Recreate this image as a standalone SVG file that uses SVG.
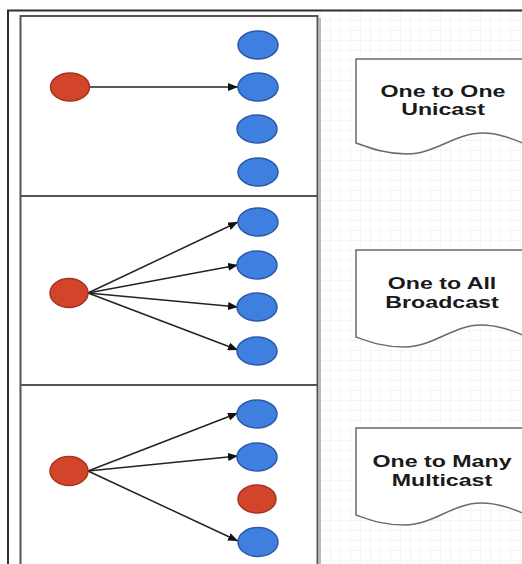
<svg xmlns="http://www.w3.org/2000/svg" width="522" height="564" viewBox="0 0 522 564">
  <defs>
    <pattern id="grid" x="0" y="0" width="10" height="10" patternUnits="userSpaceOnUse">
      <path d="M10 0 L0 0 L0 10" fill="none" stroke="#ebebeb" stroke-width="1"/>
    </pattern>
    <marker id="arrow" viewBox="0 0 10 8" refX="10" refY="4" markerWidth="10" markerHeight="8" markerUnits="userSpaceOnUse" orient="auto">
      <path d="M0 0 L10 4 L0 8 Z" fill="#111"/>
    </marker>
    <style>
      .sender { fill: #d2452b; stroke: #a8321d; stroke-width: 1.5; }
      .receiver { fill: #3f7fe0; stroke: #2a5aa6; stroke-width: 1.5; }
      .link { stroke: #222; stroke-width: 1.5; fill: none; marker-end: url(#arrow); }
      .doc { fill: #fff; stroke: #6a6a6a; stroke-width: 1.5; }
      .label { font-family: "Liberation Sans", Arial, sans-serif; font-weight: bold; font-size: 16px; fill: #1a1a1a; text-anchor: middle; }
      .frame { fill: none; stroke: #2e2e2e; stroke-width: 2; }
      .panel { fill: #fff; stroke: #555; stroke-width: 2; }
    </style>
  </defs>

  <!-- canvas -->
  <rect x="0" y="0" width="522" height="564" fill="#fff"/>
  <rect x="320" y="11" width="202" height="553" fill="url(#grid)"/>
  <path class="frame" d="M8 564 L8 10.5 L522 10.5"/>

  <!-- left panel with three bands -->
  <rect class="panel" x="20.5" y="16" width="297" height="560"/>
  <line x1="320" y1="18" x2="320" y2="564" stroke="#bbb" stroke-width="2"/>
  <line x1="20.5" y1="196" x2="317.5" y2="196" stroke="#555" stroke-width="2"/>
  <line x1="20.5" y1="385" x2="317.5" y2="385" stroke="#555" stroke-width="2"/>

  <!-- connectors -->
  <g id="connectors">
    <line class="link" x1="90" y1="87" x2="238" y2="87"/>
    <line class="link" x1="88" y1="293" x2="238" y2="222"/>
    <line class="link" x1="88" y1="293" x2="238" y2="265"/>
    <line class="link" x1="88" y1="293" x2="238" y2="307"/>
    <line class="link" x1="88" y1="293" x2="238" y2="350"/>
    <line class="link" x1="88" y1="471" x2="238" y2="413"/>
    <line class="link" x1="88" y1="471" x2="238" y2="456"/>
    <line class="link" x1="88" y1="471" x2="238" y2="541"/>
  </g>

  <!-- unicast band -->
  <g id="uni-src"><ellipse class="sender" cx="70" cy="87" rx="19.5" ry="14"/></g>
  <g id="uni-r1"><ellipse class="receiver" cx="258" cy="45" rx="20" ry="14"/></g>
  <g id="uni-r2"><ellipse class="receiver" cx="258" cy="87" rx="20" ry="14"/></g>
  <g id="uni-r3"><ellipse class="receiver" cx="257" cy="129" rx="20" ry="14"/></g>
  <g id="uni-r4"><ellipse class="receiver" cx="258" cy="172" rx="20" ry="14"/></g>

  <!-- broadcast band -->
  <g id="bc-src"><ellipse class="sender" cx="69" cy="293" rx="19" ry="14.5"/></g>
  <g id="bc-r1"><ellipse class="receiver" cx="258" cy="222" rx="20" ry="14"/></g>
  <g id="bc-r2"><ellipse class="receiver" cx="257" cy="265" rx="20" ry="14"/></g>
  <g id="bc-r3"><ellipse class="receiver" cx="257" cy="307" rx="20" ry="14"/></g>
  <g id="bc-r4"><ellipse class="receiver" cx="257" cy="351" rx="20" ry="14"/></g>

  <!-- multicast band -->
  <g id="mc-src"><ellipse class="sender" cx="69" cy="471" rx="19" ry="14.5"/></g>
  <g id="mc-r1"><ellipse class="receiver" cx="257" cy="414" rx="20" ry="14"/></g>
  <g id="mc-r2"><ellipse class="receiver" cx="257" cy="457" rx="20" ry="14"/></g>
  <g id="mc-skip"><ellipse class="sender" cx="257" cy="499" rx="19" ry="14"/></g>
  <g id="mc-r4"><ellipse class="receiver" cx="258" cy="542" rx="20" ry="14.5"/></g>

  <!-- document labels -->
  <g id="doc-unicast">
    <path class="doc" d="M356 59 L530 59 L530 146 C515 140 500 133 483 133 C455 133 435 154 407 154 C385 154 370 148 356 143 Z"/>
    <text class="label" transform="translate(443,97) scale(1.45,1)">One to One</text>
    <text class="label" transform="translate(443,115) scale(1.45,1)">Unicast</text>
  </g>
  <g id="doc-broadcast">
    <path class="doc" d="M356 250 L530 250 L530 338 C515 332 500 325 481 325 C453 325 433 347 405 347 C383 347 370 342 356 337 Z"/>
    <text class="label" transform="translate(442,289) scale(1.45,1)">One to All</text>
    <text class="label" transform="translate(442,308) scale(1.45,1)">Broadcast</text>
  </g>
  <g id="doc-multicast">
    <path class="doc" d="M356 428 L530 428 L530 516 C515 510 500 503 481 503 C453 503 433 525 405 525 C383 525 370 520 356 515 Z"/>
    <text class="label" transform="translate(442,467) scale(1.45,1)">One to Many</text>
    <text class="label" transform="translate(442,486) scale(1.45,1)">Multicast</text>
  </g>
</svg>
